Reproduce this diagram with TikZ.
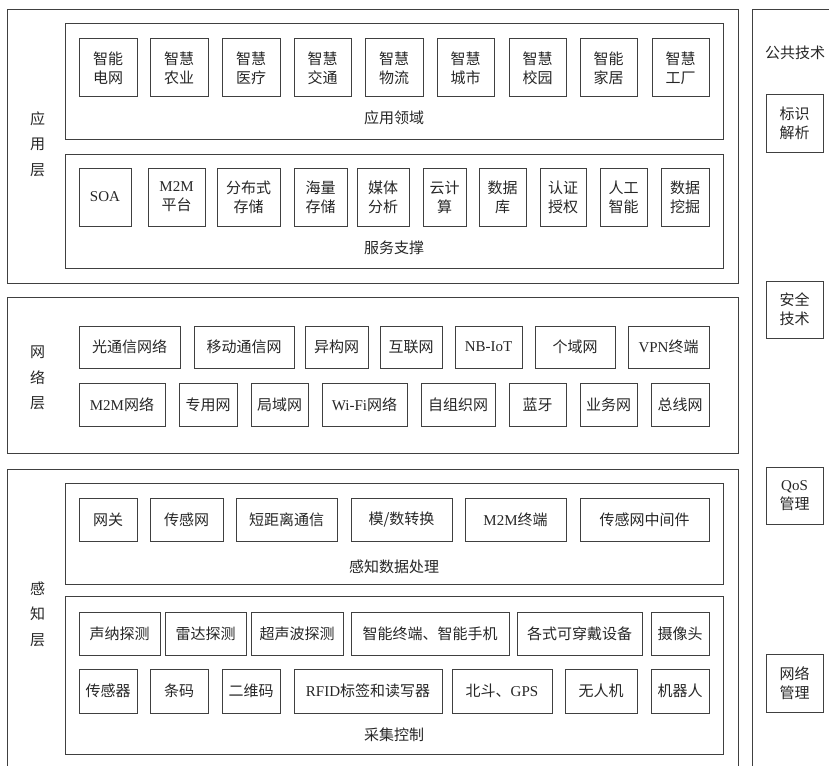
\documentclass[tikz,border=0pt]{standalone}
\usepackage{fontspec}
\setmainfont{Liberation Serif}
\newfontfamily\cjk{Noto Sans CJK SC}
\usepackage{tikz}
\newcommand\lat[1]{{\rmfamily #1}}

\begin{document}
\begin{tikzpicture}[x=1pt, y=-1pt, every node/.style={font=\cjk\fontsize{15}{19}\selectfont, text=black!85, align=center, inner sep=0pt}, frame/.style={draw=black!75, line width=1pt}, cell/.style={frame, rectangle}]
	\useasboundingbox (0,0) rectangle (829,765);
	\clip (0,0) rectangle (829,765);
	\draw[frame] (7,9.5) rectangle (738,283);
	\draw[frame] (65,24) rectangle (723,139);
	\draw[frame] (65,154) rectangle (723,268);
	\draw[frame] (7,297) rectangle (738,453);
	\draw[frame] (7,469) rectangle (738,780);
	\draw[frame] (65,483) rectangle (723,584);
	\draw[frame] (65,596) rectangle (723,754);
	\draw[frame] (752,9.5) rectangle (845,780);
	\node[font=\cjk\fontsize{15}{25.5}\selectfont] (yyc) at (37.5,144) {应\\用\\层};
	\node[font=\cjk\fontsize{15}{25.5}\selectfont] (wlc) at (37.5,378) {网\\络\\层};
	\node[font=\cjk\fontsize{15}{25.5}\selectfont] (gzc) at (37.5,614) {感\\知\\层};
	\node (yyly) at (394,118) {应用领域};
	\node (fwzc) at (394,248) {服务支撑};
	\node (gzsj) at (394,567) {感知数据处理};
	\node (cjkz) at (394,735) {采集控制};
	\node (ggjs) at (795,53) {公共技术};
	\foreach \n/\a/\b/\t in {dw/79/137/智能\\电网, ny/150/208/智慧\\农业, yl/222/280/智慧\\医疗, jt/294/351/智慧\\交通, wul/365/423/智慧\\物流, cs/437/494/智慧\\城市, xy/509/566/智慧\\校园, jj/580/637/智能\\家居, gc/652/709/智慧\\工厂}
		\node[cell, minimum width={(\b-\a)*1pt}, minimum height=58pt] (\n) at ({(\a+\b)/2},68) {\t};
	\foreach \n/\a/\b/\t in {soa/79/131/\lat{SOA}, mpt/148/205/\lat{M2M}\\平台, fbs/217/280/分布式\\存储, hl/294/347/海量\\存储, mt/357/409/媒体\\分析, yjs/423/466/云计\\算, sjk/479/526/数据\\库, rz/540/586/认证\\授权, rg/600/647/人工\\智能, wj/661/709/数据\\挖掘}
		\node[cell, minimum width={(\b-\a)*1pt}, minimum height=58pt] (\n) at ({(\a+\b)/2},197) {\t};
	\foreach \n/\a/\b/\t in {gtx/79/180/光通信网络, ydtx/194/294/移动通信网, yg/305/368/异构网, hlw/380/442/互联网, nb/455/522/\lat{NB-IoT}, gy/535/615/个域网, vpn/628/709/\lat{VPN}终端}
		\node[cell, minimum width={(\b-\a)*1pt}, minimum height=42pt] (\n) at ({(\a+\b)/2},347) {\t};
	\foreach \n/\a/\b/\t in {mwl/79/165/\lat{M2M}网络, zy/179/237/专用网, jy/251/308/局域网, wifi/322/407/\lat{Wi-Fi}网络, zzz/421/495/自组织网, ly/509/566/蓝牙, yw/580/637/业务网, zx/651/709/总线网}
		\node[cell, minimum width={(\b-\a)*1pt}, minimum height=43pt] (\n) at ({(\a+\b)/2},404.5) {\t};
	\foreach \n/\a/\b/\t in {wg/79/137/网关, cgw/150/223/传感网, djl/236/337/短距离通信, msz/351/452/{模/数转换}, mzd/465/566/\lat{M2M}终端, zjj/580/709/传感网中间件}
		\node[cell, minimum width={(\b-\a)*1pt}, minimum height=43pt] (\n) at ({(\a+\b)/2},520) {\t};
	\foreach \n/\a/\b/\t in {sn/79/160/声纳探测, ld/165/246/雷达探测, csb/251/343/超声波探测, zn/351/509/智能终端、智能手机, kcd/517/642/各式可穿戴设备, sxt/651/709/摄像头}
		\node[cell, minimum width={(\b-\a)*1pt}, minimum height=43pt] (\n) at ({(\a+\b)/2},633.5) {\t};
	\foreach \n/\a/\b/\t in {cgq/79/137/传感器, tm/150/208/条码, ewm/222/280/二维码, rfid/294/442/\lat{RFID}标签和读写器, bd/452/552/北斗、\lat{GPS}, wrj/565/637/无人机, jqr/651/709/机器人}
		\node[cell, minimum width={(\b-\a)*1pt}, minimum height=44pt] (\n) at ({(\a+\b)/2},691) {\t};
	\foreach \n/\a/\b/\t in {bsjx/95/152/标识\\解析, aqjs/281/338/安全\\技术, qos/467/524/\lat{QoS}\\管理, wlgl/654/712/网络\\管理}
		\node[cell, minimum width=57pt, minimum height={(\b-\a)*1pt}] (\n) at (794.5,{(\a+\b)/2}) {\t};
\end{tikzpicture}
\end{document}
